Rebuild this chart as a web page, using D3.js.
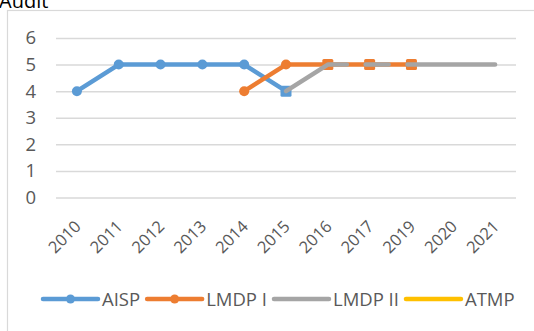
<!DOCTYPE html>
<html>
<head>
<meta charset="utf-8">
<script src="https://cdn.jsdelivr.net/npm/d3@7"></script>
<style>
  html, body { margin: 0; padding: 0; background: #fff; }
  svg { display: block; font-family: "Open Sans", sans-serif; }
</style>
</head>
<body>
<svg id="chart" width="534" height="331"></svg>
<script>
// Audit scores per programme, by year
const years = ["2010", "2011", "2012", "2013", "2014", "2015", "2016", "2017", "2019", "2020", "2021"];
const aisp    = [4, 5, 5, 5, 5, 4, null, null, null, null, null];
const lmdp1   = [null, null, null, null, 4, 5, 5, 5, 5, null, null];
const lmdp2   = [null, null, null, null, null, 4, 5, 5, 5, 5, 5];
const atmp    = [null, null, null, null, null, null, null, null, null, null, null];
const yTicks  = [0, 1, 2, 3, 4, 5, 6];
const seriesNames = ["AISP", "LMDP I", "LMDP II", "ATMP"];

const colors = { "AISP": "#5B9BD5", "LMDP I": "#ED7D31", "LMDP II": "#A5A5A5", "ATMP": "#FFC000" };

const svg = d3.select("#chart");
const FONT = "'Open Sans', sans-serif";
const textColor = "#595959";
const lineW = 4.5;

// chart frame and title
svg.append("rect")
  .attr("x", 7.5).attr("y", 10.5).attr("width", 600).attr("height", 400)
  .attr("fill", "none").attr("stroke", "#d9d9d9").attr("stroke-width", 1.2);
svg.append("text")
  .attr("x", -1).attr("y", 8)
  .attr("font-family", FONT).attr("font-size", 20).attr("fill", "#000")
  .text("Audit");

const x = d3.scaleBand().domain(years).range([56, 516]);
const y = d3.scaleLinear().domain([0, 6]).range([197.5, 38]);
const cx = d => x(d) + x.bandwidth() / 2;

// gridlines + y labels
const yAxis = d3.axisLeft(y).tickValues(yTicks).tickFormat(d3.format("d"))
  .tickSize(-(516 - 56)).tickPadding(20);
const gy = svg.append("g").attr("transform", "translate(56,0)").call(yAxis)
  .attr("font-family", FONT).attr("font-size", 18.5);
gy.select(".domain").remove();
gy.selectAll(".tick line").attr("stroke", "#d9d9d9").attr("stroke-width", 1.5);
gy.selectAll(".tick text").attr("fill", textColor);

// x labels, rotated
const xAxis = d3.axisBottom(x).tickSize(0).tickPadding(0);
const gx = svg.append("g").attr("transform", "translate(0,197.5)").call(xAxis)
  .attr("font-family", FONT).attr("font-size", 16.5);
gx.select(".domain").remove();
gx.selectAll(".tick text")
  .attr("fill", textColor)
  .attr("text-anchor", "end")
  .attr("dy", null)
  .attr("transform", "translate(5,30) rotate(-45)");

const line = d3.line()
  .defined(d => d.v !== null)
  .x(d => cx(d.year))
  .y(d => y(d.v));

const toPts = vals => years.map((yr, i) => ({ year: yr, v: vals[i] }));

// marker shapes for individual points
const squarePts = { "AISP": ["2015"], "LMDP I": ["2016", "2017", "2019"] };

function drawSeries(name, vals, withMarkers, dash) {
  const pts = toPts(vals);
  const p = svg.append("path").datum(pts)
    .attr("d", line)
    .attr("fill", "none")
    .attr("stroke", colors[name])
    .attr("stroke-width", lineW)
    .attr("stroke-linejoin", "round")
    .attr("stroke-linecap", "round");
  if (dash) p.attr("stroke-dasharray", dash);
  if (!withMarkers) return;
  const def = pts.filter(d => d.v !== null);
  const sq = squarePts[name] || [];
  svg.append("g").selectAll("circle")
    .data(def.filter(d => !sq.includes(d.year)))
    .join("circle")
    .attr("cx", d => cx(d.year)).attr("cy", d => y(d.v))
    .attr("r", 5).attr("fill", colors[name]);
  svg.append("g").selectAll("rect")
    .data(def.filter(d => sq.includes(d.year)))
    .join("rect")
    .attr("x", d => cx(d.year) - 5.5).attr("y", d => y(d.v) - 5.5)
    .attr("width", 11).attr("height", 11).attr("rx", 1.5)
    .attr("fill", colors[name]);
}

drawSeries("AISP", aisp, true);
drawSeries("LMDP I", lmdp1, true);

// LMDP II overlaps LMDP I along the flat stretch; it shows through in part there
const step = x.step();
const rise = y(4) - y(5);
const firstLen = Math.hypot(step, rise);
const seg = 0.55 * step;
const gapLen = step - seg;
const dash2 = [firstLen + seg - 4, gapLen, seg, gapLen, 2000].join(",");
drawSeries("LMDP II", lmdp2, false, dash2);
drawSeries("ATMP", atmp, false);

// legend
const legend = svg.append("g").attr("transform", "translate(0,299)")
  .attr("font-family", FONT).attr("font-size", 18.5);
let lx = 43;
seriesNames.forEach((name, i) => {
  const g = legend.append("g");
  g.append("line")
    .attr("x1", lx).attr("x2", lx + 55).attr("y1", 0).attr("y2", 0)
    .attr("stroke", colors[name]).attr("stroke-width", lineW).attr("stroke-linecap", "round");
  if (i < 2) {
    g.append("circle").attr("cx", lx + 27.5).attr("cy", 0).attr("r", 4.5).attr("fill", colors[name]);
  }
  const t = g.append("text")
    .attr("x", lx + 59).attr("y", 6.5)
    .attr("fill", textColor)
    .text(name);
  lx = lx + 59 + t.node().getComputedTextLength() + 7;
});
</script>
</body>
</html>
